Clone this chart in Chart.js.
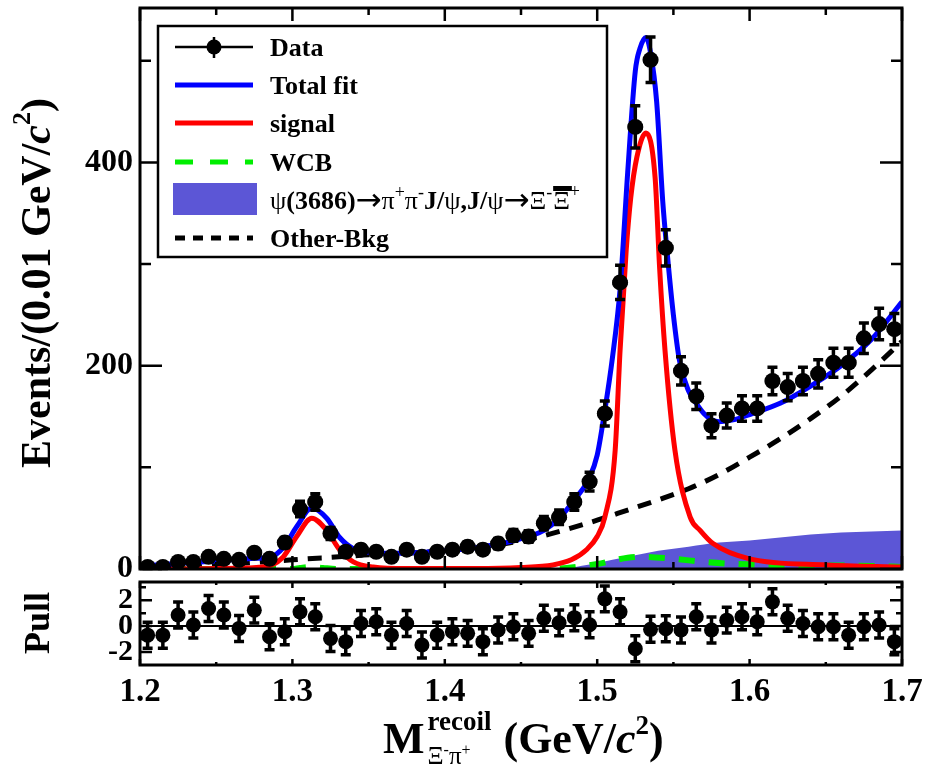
<!DOCTYPE html>
<html>
<head>
<meta charset="utf-8">
<title>Xi- pi+ recoil mass fit</title>
<script src="https://cdn.jsdelivr.net/npm/chart.js@4.4.1/dist/chart.umd.min.js"></script>
<style>
  html, body { margin: 0; padding: 0; background: #fff; }
  #wrap { position: relative; width: 925px; height: 767px; }
  #wrap canvas { position: absolute; left: 0; top: 0; }
</style>
</head>
<body>
<div id="wrap">
  <canvas id="mainPlot" width="925" height="767"></canvas>
  <canvas id="pullPlot" width="925" height="767"></canvas>
</div>
<script>
// binned data, 0.01 GeV/c^2 per bin
const binCenters = [1.205, 1.215, 1.225, 1.235, 1.245, 1.255, 1.265, 1.275, 1.285, 1.295,
  1.305, 1.315, 1.325, 1.335, 1.345, 1.355, 1.365, 1.375, 1.385, 1.395,
  1.405, 1.415, 1.425, 1.435, 1.445, 1.455, 1.465, 1.475, 1.485, 1.495,
  1.505, 1.515, 1.525, 1.535, 1.545, 1.555, 1.565, 1.575, 1.585, 1.595,
  1.605, 1.615, 1.625, 1.635, 1.645, 1.655, 1.665, 1.675, 1.685, 1.695];
const counts = [2, 2, 7, 7, 12, 10, 9, 16, 10, 26,
  59, 66, 35, 17, 19, 17, 12, 19, 12, 17,
  19, 22, 19, 25, 33, 32, 45, 51, 66, 86,
  153, 282, 435, 501, 316, 195, 170, 141, 151, 158,
  158, 185, 179, 185, 192, 203, 203, 227, 241, 236];
const pulls = [-0.7, -0.7, 0.85, 0.08, 1.36, 0.85, -0.18, 1.23, -0.82, -0.44,
  1.1, 0.72, -0.95, -1.2, 0.2, 0.33, -0.7, 0.2, -1.46, -0.7,
  -0.44, -0.56, -1.2, -0.3, -0.05, -0.56, 0.6, 0.25, 0.65, 0.1,
  2.1, 1.1, -1.75, -0.25, -0.2, -0.3, 0.72, -0.3, 0.46, 0.72,
  0.33, 1.87, 0.6, 0.2, -0.05, -0.05, -0.7, -0.05, 0.08, -1.2];

// fit curves
const totalFitX = [1.200, 1.220, 1.240, 1.260, 1.275, 1.286, 1.294, 1.303, 1.3127, 1.3225, 1.331, 1.340, 1.353,
  1.365, 1.380, 1.400, 1.420, 1.440, 1.455, 1.465, 1.475, 1.485, 1.495, 1.500, 1.505, 1.510, 1.515,
  1.520, 1.525, 1.528, 1.532, 1.535, 1.539, 1.543, 1.546, 1.550, 1.554, 1.560, 1.565, 1.570, 1.575,
  1.580, 1.590, 1.600, 1.620, 1.640, 1.660, 1.680, 1.700];
const totalFitY = [3, 5, 7, 9, 10.5, 12, 21, 42, 60, 50, 31, 20, 16,
  15.5, 16, 18, 21, 26, 32, 38, 50, 68, 90, 112, 156, 208, 275,
  390, 490, 512, 523, 508, 460, 362, 310, 250, 205, 175, 163, 153, 147,
  145, 147, 152, 163, 180, 200, 226, 263];

const signalX = [1.200, 1.270, 1.2864, 1.294, 1.3028, 1.3127, 1.3225, 1.331, 1.340, 1.353, 1.375, 1.420,
  1.450, 1.471, 1.483, 1.493, 1.500, 1.505, 1.5118, 1.515, 1.519, 1.522, 1.526, 1.532, 1.538,
  1.541, 1.5445, 1.551, 1.561, 1.5675, 1.576, 1.600, 1.650, 1.700];
const signalY = [0, 1, 4, 12, 32, 50, 38, 19, 7, 2, 0.5, 0.5,
  1.5, 4, 9, 19, 32, 51, 117, 215, 313, 365, 405, 429, 385,
  295, 215, 117, 51, 38, 25, 10, 4, 2];

const otherBkgX = [1.20, 1.22, 1.24, 1.26, 1.28, 1.30, 1.32, 1.34, 1.36, 1.38, 1.40, 1.42, 1.44,
  1.46, 1.48, 1.50, 1.52, 1.54, 1.56, 1.58, 1.60, 1.62, 1.64, 1.66, 1.68, 1.70];
const otherBkgY = [1, 2, 3, 5, 7, 9, 11, 13, 15, 16, 18, 21, 25,
  31, 39, 48, 58, 68, 79, 93, 110, 128, 148, 170, 196, 224];

const wcbX = [1.20, 1.30, 1.305, 1.3125, 1.32, 1.33, 1.46, 1.48, 1.50, 1.52, 1.53, 1.55,
  1.57, 1.59, 1.62, 1.65, 1.68, 1.70];
const wcbY = [0, 0, 1, 2, 1, 0, 0, 1, 5, 11, 12, 10,
  7, 5, 4, 3.5, 3, 2];

const jpsiBkgX = [1.45, 1.47, 1.48, 1.50, 1.52, 1.54, 1.56, 1.58, 1.60, 1.62, 1.64, 1.66, 1.68, 1.70];
const jpsiBkgY = [0, 0.5, 1, 6, 12, 18, 22, 26, 28, 31, 34, 36, 37, 38];

// axis ticks
const xMajorTicks = [1.2, 1.3, 1.4, 1.5, 1.6, 1.7];
const xMinorTicks = [1.25, 1.35, 1.45, 1.55, 1.65];
const xTickLabels = ['1.2', '1.3', '1.4', '1.5', '1.6', '1.7'];
const yMajorTicks = [0, 200, 400];
const yMinorTicks = [100, 300, 500];
const yTickLabels = ['0', '200', '400'];
const pullMajorTicks = [-2, 0, 2];
const pullMinorTicks = [-1, 1, 3];
const pullTickLabels = ['-2', '0', '2'];

const SERIF = '"Liberation Serif", "Times New Roman", serif';
const ARROW = '31px "DejaVu Sans", sans-serif';
const xy = (xs, ys) => xs.map((x, i) => ({ x, y: ys[i] }));

function curve(label, xs, ys, color, extra) {
  return Object.assign({
    type: 'line', label, data: xy(xs, ys),
    borderColor: color, borderWidth: 5, pointRadius: 0,
    cubicInterpolationMode: 'monotone', fill: false
  }, extra);
}

// draws a run of text pieces with their own fonts and offsets, returns end x
function drawRich(ctx, segs, x, y) {
  segs.forEach(s => {
    ctx.font = s.f;
    ctx.fillText(s.t, x, y + (s.dy || 0));
    x += ctx.measureText(s.t).width + (s.k || 0);
  });
  return x;
}
function richWidth(ctx, segs) {
  let w = 0;
  segs.forEach(s => { ctx.font = s.f; w += ctx.measureText(s.t).width + (s.k || 0); });
  return w;
}

function drawFrame(chart, t) {
  const { ctx, chartArea: a, scales: { x, y } } = chart;
  ctx.save();
  ctx.strokeStyle = '#000';
  ctx.lineWidth = 2.5;
  ctx.beginPath();
  const vTick = (v, len) => {
    const p = x.getPixelForValue(v);
    ctx.moveTo(p, a.bottom); ctx.lineTo(p, a.bottom - len);
    ctx.moveTo(p, a.top); ctx.lineTo(p, a.top + len);
  };
  const hTick = (v, len) => {
    const p = y.getPixelForValue(v);
    if (p < a.top || p > a.bottom) return;
    ctx.moveTo(a.left, p); ctx.lineTo(a.left + len, p);
    ctx.moveTo(a.right, p); ctx.lineTo(a.right - len, p);
  };
  xMajorTicks.forEach(v => vTick(v, t.xMajor));
  xMinorTicks.forEach(v => vTick(v, t.xMinor));
  t.yMajor.forEach(v => hTick(v, t.yMajorLen));
  t.yMinor.forEach(v => hTick(v, t.yMinorLen));
  ctx.stroke();
  ctx.lineWidth = 3;
  ctx.strokeRect(a.left, a.top, a.right - a.left, a.bottom - a.top);
  ctx.restore();
}

function drawErrorBars(chart, ys, errs, halfWidth) {
  const { ctx, scales: { x, y } } = chart;
  ctx.save();
  ctx.strokeStyle = '#000';
  ctx.lineWidth = 3.5;
  ctx.beginPath();
  binCenters.forEach((c, i) => {
    const v = ys[i], e = errs[i];
    const px = x.getPixelForValue(c), py = y.getPixelForValue(v);
    const top = y.getPixelForValue(v + e), bot = y.getPixelForValue(v - e);
    ctx.moveTo(px, top); ctx.lineTo(px, bot);
    ctx.moveTo(px - 5, top); ctx.lineTo(px + 5, top);
    ctx.moveTo(px - 5, bot); ctx.lineTo(px + 5, bot);
  });
  ctx.stroke();
  if (halfWidth) {
    ctx.lineWidth = 5;
    ctx.beginPath();
    binCenters.forEach((c, i) => {
      const py = y.getPixelForValue(ys[i]);
      ctx.moveTo(x.getPixelForValue(c - halfWidth), py);
      ctx.lineTo(x.getPixelForValue(c + halfWidth), py);
    });
    ctx.stroke();
  }
  ctx.restore();
}

function drawLegend(ctx) {
  const boldF = 'bold 26px ' + SERIF, regF = '26px ' + SERIF, supF = '18px ' + SERIF;
  ctx.save();
  ctx.fillStyle = '#fff';
  ctx.fillRect(158, 26, 449, 231);
  ctx.strokeStyle = '#000';
  ctx.lineWidth = 2.5;
  ctx.strokeRect(158, 26, 449, 231);

  const x0 = 175, x1 = 253, tx = 270;
  // Data
  ctx.lineWidth = 2.5;
  ctx.beginPath();
  ctx.moveTo(x0, 47); ctx.lineTo(x1, 47);
  ctx.moveTo(214, 37); ctx.lineTo(214, 58);
  ctx.stroke();
  ctx.fillStyle = '#000';
  ctx.beginPath(); ctx.arc(214, 47, 7.5, 0, Math.PI * 2); ctx.fill();
  // lines
  const line = (yy, color, dash) => {
    ctx.strokeStyle = color; ctx.lineWidth = 5; ctx.setLineDash(dash || []);
    ctx.beginPath(); ctx.moveTo(x0, yy); ctx.lineTo(x1, yy); ctx.stroke();
    ctx.setLineDash([]);
  };
  line(85, '#0000ff');
  line(123, '#ff0000');
  line(162, '#00ee00', [18, 17]);
  line(238, '#000', [10, 8]);
  ctx.fillStyle = '#5c56d6';
  ctx.fillRect(173, 183, 84, 32);

  ctx.fillStyle = '#000';
  ctx.textAlign = 'left';
  ctx.textBaseline = 'alphabetic';
  ctx.font = boldF;
  ctx.fillText('Data', tx, 56);
  ctx.fillText('Total fit', tx, 94);
  ctx.fillText('signal', tx, 132);
  ctx.fillText('WCB', tx, 171);
  ctx.fillText('Other-Bkg', tx, 247);

  const segs = [
    { t: 'ψ', f: regF }, { t: '(3686)', f: boldF }, { t: '→', f: ARROW, dy: 1 }, { t: 'π', f: regF },
    { t: '+', f: supF, dy: -11 }, { t: 'π', f: regF }, { t: '-', f: supF, dy: -11 },
    { t: 'J/', f: boldF }, { t: 'ψ', f: regF }, { t: ',J/', f: boldF }, { t: 'ψ', f: regF },
    { t: '→', f: ARROW, dy: 1 }, { t: 'Ξ', f: regF }, { t: '-', f: supF, dy: -11, k: 1 }
  ];
  let ex = drawRich(ctx, segs, tx, 209);
  ctx.font = regF;
  const wXi = ctx.measureText('Ξ').width;
  ctx.fillText('Ξ', ex, 209);
  ctx.fillRect(ex, 186, wXi + 2, 5);
  ex += wXi;
  ctx.font = supF;
  ctx.fillText('+', ex, 197);
  ctx.restore();
}

const mainDecor = {
  id: 'mainDecor',
  afterDatasetsDraw(chart) {
    drawErrorBars(chart, counts, counts.map(n => Math.sqrt(n)), 0.005);
  },
  afterDraw(chart) {
    const { ctx, scales: { y } } = chart;
    drawFrame(chart, { xMajor: 13, xMinor: 7, yMajor: yMajorTicks, yMinor: yMinorTicks, yMajorLen: 22, yMinorLen: 11 });
    ctx.save();
    ctx.fillStyle = '#000';
    ctx.font = 'bold 32px ' + SERIF;
    ctx.textAlign = 'right';
    ctx.textBaseline = 'middle';
    yMajorTicks.forEach((v, i) => ctx.fillText(yTickLabels[i], 133, y.getPixelForValue(v)));

    // y axis title
    const big = 'bold 42px ' + SERIF;
    const segs = [
      { t: 'Events/(0.01 GeV/', f: big }, { t: 'c', f: 'italic bold 42px ' + SERIF },
      { t: '2', f: 'bold 26px ' + SERIF, dy: -16 }, { t: ')', f: big }
    ];
    ctx.translate(39, 283);
    ctx.rotate(-Math.PI / 2);
    ctx.textAlign = 'left';
    ctx.textBaseline = 'middle';
    drawRich(ctx, segs, -richWidth(ctx, segs) / 2, 0);
    ctx.restore();

    drawLegend(ctx);
  }
};

const pullDecor = {
  id: 'pullDecor',
  beforeDatasetsDraw(chart) {
    const { ctx, chartArea: a, scales: { y } } = chart;
    ctx.save();
    ctx.strokeStyle = '#000';
    ctx.lineWidth = 2;
    ctx.beginPath();
    ctx.moveTo(a.left, y.getPixelForValue(0));
    ctx.lineTo(a.right, y.getPixelForValue(0));
    ctx.stroke();
    ctx.restore();
  },
  afterDatasetsDraw(chart) {
    drawErrorBars(chart, pulls, pulls.map(() => 1), 0);
  },
  afterDraw(chart) {
    const { ctx, scales: { x, y } } = chart;
    drawFrame(chart, { xMajor: 6, xMinor: 3, yMajor: pullMajorTicks, yMinor: pullMinorTicks, yMajorLen: 12, yMinorLen: 6 });
    ctx.save();
    ctx.fillStyle = '#000';
    ctx.font = 'bold 30px ' + SERIF;
    ctx.textAlign = 'right';
    ctx.textBaseline = 'middle';
    pullMajorTicks.forEach((v, i) => ctx.fillText(pullTickLabels[i], 133, y.getPixelForValue(v)));

    ctx.font = 'bold 33px ' + SERIF;
    ctx.textAlign = 'center';
    ctx.textBaseline = 'alphabetic';
    xMajorTicks.forEach((v, i) => ctx.fillText(xTickLabels[i], x.getPixelForValue(v), 701));

    // x axis title
    const big = 'bold 44px ' + SERIF;
    ctx.textAlign = 'left';
    let tx = 383;
    const base = 753;
    ctx.font = big;
    ctx.fillText('M', tx, base);
    tx += ctx.measureText('M').width + 3;
    ctx.font = 'bold 27px ' + SERIF;
    ctx.fillText('recoil', tx, base - 23);
    const wSup = ctx.measureText('recoil').width;
    const subSegs = [
      { t: 'Ξ', f: '25px ' + SERIF }, { t: '-', f: '16px ' + SERIF, dy: -9 },
      { t: 'π', f: '25px ' + SERIF }, { t: '+', f: '16px ' + SERIF, dy: -9 }
    ];
    const wSub = drawRich(ctx, subSegs, tx, base + 11) - tx;
    tx += Math.max(wSup, wSub) + 12;
    drawRich(ctx, [
      { t: '(GeV/', f: big }, { t: 'c', f: 'italic bold 44px ' + SERIF },
      { t: '2', f: 'bold 27px ' + SERIF, dy: -19 }, { t: ')', f: big }
    ], tx, base);

    // pull axis title
    ctx.translate(40, 623);
    ctx.rotate(-Math.PI / 2);
    ctx.font = 'bold 36px ' + SERIF;
    ctx.textAlign = 'center';
    ctx.textBaseline = 'middle';
    ctx.fillText('Pull', 0, 0);
    ctx.restore();
  }
};

new Chart(document.getElementById('mainPlot'), {
  type: 'scatter',
  data: {
    datasets: [
      { label: 'Data', data: xy(binCenters, counts), pointRadius: 8, pointBackgroundColor: '#000',
        pointBorderColor: '#000', pointBorderWidth: 0, showLine: false },
      curve('Total fit', totalFitX, totalFitY, '#0000ff'),
      curve('signal', signalX, signalY, '#ff0000'),
      curve('Other-Bkg', otherBkgX, otherBkgY, '#000', { borderDash: [14, 10] }),
      curve('WCB', wcbX, wcbY, '#00ee00', { borderDash: [16, 14], borderWidth: 6 }),
      curve('ψ(3686)→π+π-J/ψ,J/ψ→Ξ-Ξbar+', jpsiBkgX, jpsiBkgY, 'rgba(0,0,0,0)',
        { borderWidth: 0, fill: 'origin', backgroundColor: '#5c56d6' })
    ]
  },
  options: {
    responsive: false,
    animation: false,
    events: [],
    layout: { padding: { left: 140, right: 23, top: 6, bottom: 198 } },
    scales: {
      x: { type: 'linear', min: 1.2, max: 1.7, display: false },
      y: { type: 'linear', min: 0, max: 552, display: false }
    },
    plugins: { legend: { display: false }, tooltip: { enabled: false } }
  },
  plugins: [mainDecor]
});

new Chart(document.getElementById('pullPlot'), {
  type: 'scatter',
  data: {
    datasets: [
      { label: 'Pull', data: xy(binCenters, pulls), pointRadius: 7.5, pointBackgroundColor: '#000',
        pointBorderColor: '#000', pointBorderWidth: 0 }
    ]
  },
  options: {
    responsive: false,
    animation: false,
    events: [],
    layout: { padding: { left: 140, right: 23, top: 582, bottom: 102 } },
    scales: {
      x: { type: 'linear', min: 1.2, max: 1.7, display: false },
      y: { type: 'linear', min: -3, max: 3.4, display: false }
    },
    plugins: { legend: { display: false }, tooltip: { enabled: false } }
  },
  plugins: [pullDecor]
});
</script>
</body>
</html>
